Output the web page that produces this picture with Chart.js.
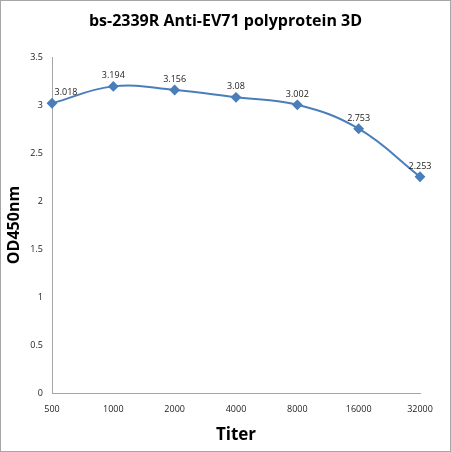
<!DOCTYPE html>
<html>
<head>
<meta charset="utf-8">
<script src="https://cdn.jsdelivr.net/npm/chart.js@4/dist/chart.umd.min.js"></script>
<style>
  html, body { margin: 0; padding: 0; background: #fff; }
  .wrap { width: 449px; height: 450px; border: 1px solid #a6a6a6; position: relative; }
</style>
</head>
<body>
<div class="wrap"><canvas id="chart"></canvas></div>
<script>
const titers = ['500', '1000', '2000', '4000', '8000', '16000', '32000'];
const odValues = [3.018, 3.194, 3.156, 3.08, 3.002, 2.753, 2.253];
const chartTitle = 'bs-2339R Anti-EV71 polyprotein 3D';
const lineColor = '#4a7ebb';
const fontFamily = '"Open Sans", sans-serif';

// title centred on the whole canvas, plus value labels above each point
const extras = {
  id: 'extras',
  afterDraw(chart) {
    const ctx = chart.ctx;
    ctx.save();
    ctx.fillStyle = '#000';
    ctx.font = 'bold 16px ' + fontFamily;
    ctx.textAlign = 'center';
    ctx.textBaseline = 'middle';
    ctx.fillText(chartTitle, chart.width / 2, 20);

    const meta = chart.getDatasetMeta(0);
    ctx.font = '9px ' + fontFamily;
    ctx.fillStyle = '#222';
    ctx.textBaseline = 'bottom';
    meta.data.forEach((pt, i) => {
      let x = pt.x;
      if (i === 0) x += 14;
      ctx.fillText(String(odValues[i]), x, pt.y - 6);
    });
    ctx.restore();
  }
};

const ctx = document.getElementById('chart').getContext('2d');
const chart = new Chart(ctx, {
  type: 'line',
  data: {
    labels: titers,
    datasets: [{
      data: odValues,
      borderColor: lineColor,
      backgroundColor: lineColor,
      borderWidth: 2,
      tension: 0.4,
      pointStyle: 'rectRot',
      pointRadius: 4,
      pointHoverRadius: 4
    }]
  },
  options: {
    responsive: true,
    maintainAspectRatio: false,
    animation: false,
    layout: { padding: { top: 56, right: 30, bottom: 0, left: 4 } },
    plugins: {
      legend: { display: false },
      tooltip: { enabled: false },
      title: { display: false }
    },
    scales: {
      x: {
        offset: false,
        grid: { display: false, drawTicks: false },
        border: { color: '#a6a6a6' },
        ticks: { color: '#222', font: { family: fontFamily, size: 9 }, padding: 11, maxRotation: 0 },
        title: {
          display: true, text: 'Titer', color: '#000',
          font: { family: fontFamily, size: 17, weight: 'bold' },
          padding: { top: 0, bottom: 6 }
        },
        afterFit(scale) { scale.height = 58; }
      },
      y: {
        min: 0, max: 3.5,
        grid: { display: false, drawTicks: false },
        border: { color: '#a6a6a6' },
        ticks: {
          stepSize: 0.5, color: '#222', font: { family: fontFamily, size: 9 }, padding: 9,
          callback: v => String(v)
        },
        title: {
          display: true, text: 'OD450nm', color: '#000',
          font: { family: fontFamily, size: 16, weight: 'bold' },
          padding: { top: 0, bottom: 0 }
        },
        afterFit(scale) { scale.width = 47; }
      }
    }
  },
  plugins: [extras]
});
</script>
</body>
</html>
